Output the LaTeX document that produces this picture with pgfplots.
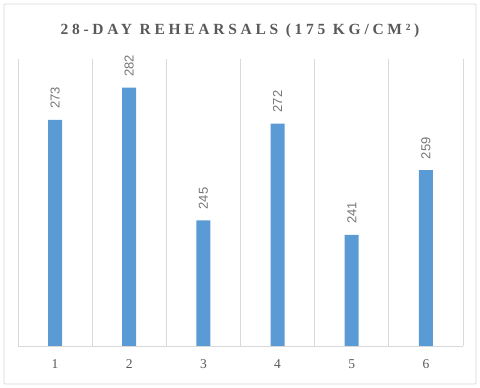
\documentclass[border=0pt]{standalone}
\usepackage{fontspec}
\setmainfont{Liberation Serif}
\newfontfamily\titlefont[LetterSpace=24]{Liberation Serif}
\newfontfamily\labelfont{Liberation Sans}
\usepackage{pgfplots}
\pgfplotsset{compat=1.18}
\definecolor{barblue}{HTML}{5B9BD5}
\definecolor{gridgray}{HTML}{D9D9D9}
\definecolor{txtgray}{HTML}{595959}
\definecolor{lblgray}{HTML}{767676}

\begin{document}
\begin{tikzpicture}
\useasboundingbox (0,0) rectangle (480pt,388pt);
\draw[gridgray, line width=0.8pt, rounded corners=1pt] (4pt,4pt) rectangle (476pt,384pt);
% chart title, letter-spaced like the original
\node[anchor=base, inner sep=0pt, text=txtgray,
  font=\titlefont\bfseries\fontsize{15.5}{18}\selectfont] at (240pt,353.7pt)
  {28-DAY REHEARSALS (175 KG/CM²)};
\begin{axis}[
  at={(18pt,42pt)}, anchor=south west,
  width=445pt, height=287pt, scale only axis,
  xmin=0.5, xmax=6.5, ymin=210, ymax=290,
  ybar, bar width=14pt,
  /pgf/number format/assume math mode=true,
  axis x line=bottom, axis y line=none,
  x axis line style={draw=gridgray, line width=0.8pt, -},
  xtick={1,...,6}, xticklabels={1,2,3,4,5,6}, major tick length=0pt,
  minor xtick={0.5,1.5,...,6.5}, minor tick length=0pt,
  xminorgrids, minor grid style={gridgray, line width=0.8pt},
  xticklabel style={font=\fontsize{13.5}{15}\selectfont, text=txtgray, yshift=-10.5pt},
  nodes near coords,
  every node near coord/.append style={rotate=90, anchor=west,
    inner xsep=11pt, inner ysep=0pt, text=lblgray,
    font=\labelfont\fontsize{13}{15}\selectfont},
]
\addplot[fill=barblue, draw=none] coordinates {
  (1,273) (2,282) (3,245) (4,272) (5,241) (6,259)};
\end{axis}
\end{tikzpicture}
\end{document}
